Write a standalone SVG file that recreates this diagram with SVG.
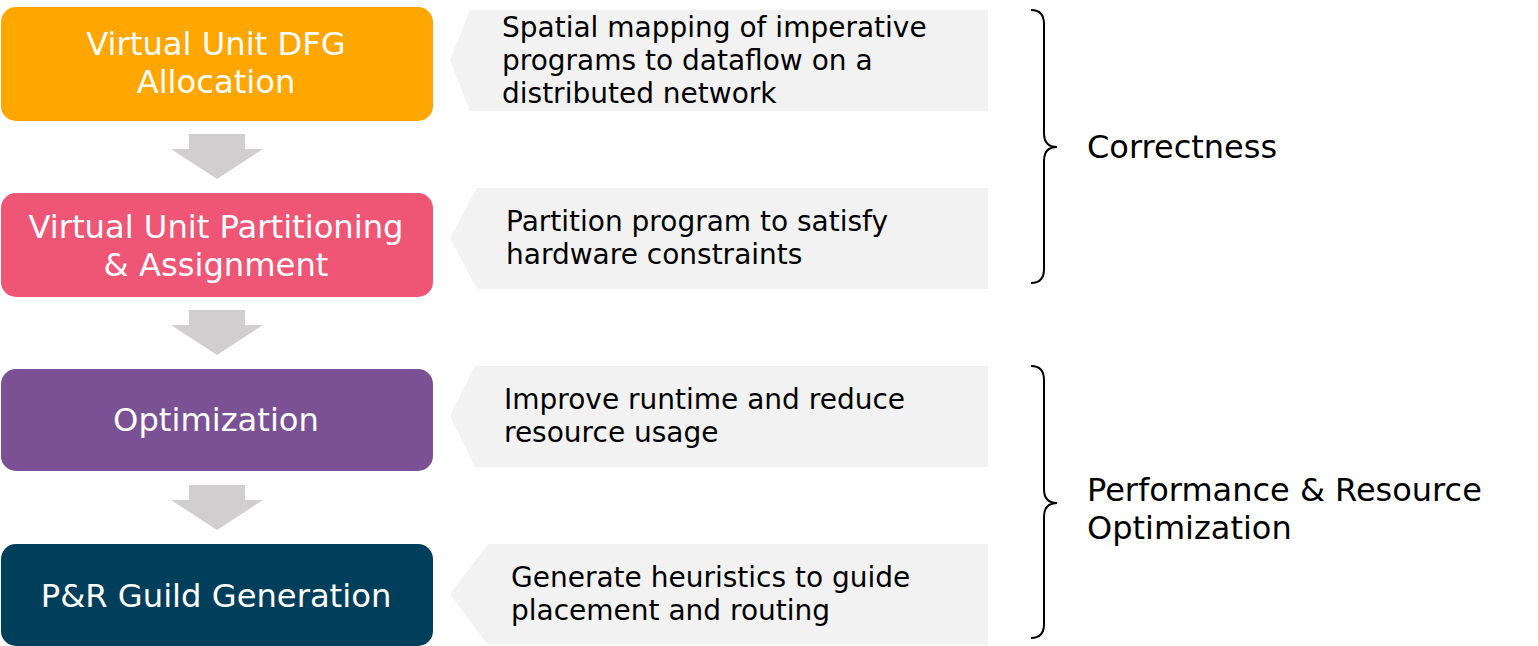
<svg xmlns="http://www.w3.org/2000/svg" width="1538" height="646" viewBox="0 0 1538 646">
<style>
.box{stroke:none}
.t{font-family:"DejaVu Sans",Verdana,sans-serif;font-size:32.2px;fill:#fff;text-anchor:middle}
.d{font-family:"DejaVu Sans",Verdana,sans-serif;font-size:28px;fill:#000}
.r{font-family:"DejaVu Sans",Verdana,sans-serif;font-size:32px;fill:#000}
.co{fill:#F2F2F2}
.ar{fill:#D0CECE}
.br{fill:none;stroke:#000;stroke-width:2}
</style>
<rect width="1538" height="646" fill="#fff"/>
<g id="n1"><rect class="box" x="1" y="7" width="432" height="114" rx="15" fill="#FFA600"/>
<text class="t" x="216" y="55">Virtual Unit DFG</text><text class="t" x="216" y="93">Allocation</text></g>
<g id="n2"><rect class="box" x="1" y="193" width="432" height="104" rx="15" fill="#EF5675"/>
<text class="t" x="216" y="238">Virtual Unit Partitioning</text><text class="t" x="216" y="276">&amp; Assignment</text></g>
<g id="n3"><rect class="box" x="1" y="369" width="432" height="102" rx="15" fill="#7A5195"/>
<text class="t" x="216" y="431">Optimization</text></g>
<g id="n4"><rect class="box" x="1" y="544" width="432" height="102" rx="15" fill="#003F5C"/>
<text class="t" x="216" y="607">P&amp;R Guild Generation</text></g>
<g id="connectors">
<path class="ar" d="M189,134 H245 V149 H263 L217,179 L171,149 H189 Z"/>
<path class="ar" d="M189,310 H245 V325 H263 L217,355 L171,325 H189 Z"/>
<path class="ar" d="M189,485 H245 V500 H263 L217,530 L171,500 H189 Z"/>
</g>
<g id="c1"><path class="co" d="M470,10 H988 V111 H470 L450,60 Z"/>
<text class="d" x="502" y="37">Spatial mapping of imperative</text>
<text class="d" x="502" y="70">programs to dataflow on a</text>
<text class="d" x="502" y="103">distributed network</text></g>
<g id="c2"><path class="co" d="M477,188 H988 V289 H477 L450,238 Z"/>
<text class="d" x="506" y="231">Partition program to satisfy</text>
<text class="d" x="506" y="264">hardware constraints</text></g>
<g id="c3"><path class="co" d="M475,366 H988 V467 H475 L450,416 Z"/>
<text class="d" x="504" y="409">Improve runtime and reduce</text>
<text class="d" x="504" y="442">resource usage</text></g>
<g id="c4"><path class="co" d="M488,544 H988 V645 H488 L450,594 Z"/>
<text class="d" x="511" y="587">Generate heuristics to guide</text>
<text class="d" x="511" y="620">placement and routing</text></g>
<g id="g1"><path class="br" d="M1031,10 Q1044,10 1044,24 L1044,133 Q1044,147 1057,147 Q1044,147 1044,161 L1044,269 Q1044,283 1031,283"/>
<text class="r" x="1087" y="158">Correctness</text></g>
<g id="g2"><path class="br" d="M1031,366 Q1044,366 1044,380 L1044,489 Q1044,503 1057,503 Q1044,503 1044,517 L1044,624 Q1044,638 1031,638"/>
<text class="r" x="1087" y="501">Performance &amp; Resource</text>
<text class="r" x="1087" y="539">Optimization</text></g>
</svg>
